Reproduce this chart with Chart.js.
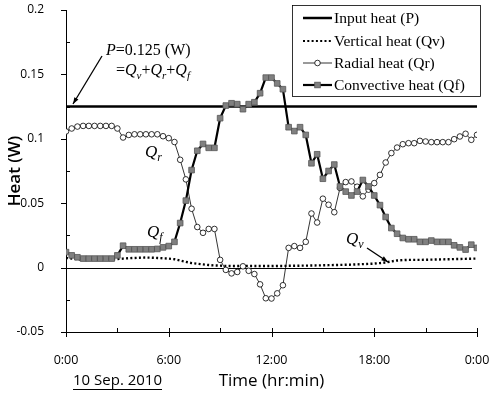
<!DOCTYPE html>
<html>
<head>
<meta charset="utf-8">
<script src="https://cdn.jsdelivr.net/npm/chart.js@4.4.0/dist/chart.umd.min.js"></script>
<style>
  html, body { margin: 0; padding: 0; background: #fff; }
  #wrap { position: relative; width: 489px; height: 394px; }
</style>
</head>
<body>
<div id="wrap"><canvas id="heatChart" width="489" height="394"></canvas></div>
<script>
// --- data: one sample every 20 min, 0:00 -> 24:00 ---
const sampleMinutes = Array.from({ length: 73 }, (_, i) => i * 20);

const inputHeat = 0.125;

const vertHeat = [
  0.0075, 0.007, 0.0065, 0.006, 0.006, 0.006, 0.006, 0.0062, 0.0064, 0.0066,
  0.007, 0.0073, 0.0075, 0.0077, 0.0078, 0.0077, 0.0075, 0.0072, 0.007, 0.0065,
  0.0055, 0.0045, 0.0035, 0.003, 0.0025, 0.002, 0.0017, 0.0015, 0.0013, 0.0012,
  0.0012, 0.0012, 0.0012, 0.0012, 0.0012, 0.0012, 0.0012, 0.0013, 0.0013, 0.0014,
  0.0014, 0.0015, 0.0015, 0.0016, 0.0017, 0.0018, 0.0019, 0.002, 0.0021, 0.0022,
  0.0023, 0.0025, 0.0027, 0.0029, 0.0031, 0.0035, 0.004, 0.0048, 0.0055, 0.0058,
  0.006, 0.006, 0.006, 0.0061, 0.0062, 0.0063, 0.0064, 0.0065, 0.0066, 0.0067,
  0.0068, 0.0069, 0.007
];

const radialHeat = [
  0.1057, 0.108, 0.1095, 0.110, 0.110, 0.110, 0.110, 0.110, 0.110, 0.108,
  0.101, 0.103, 0.1035, 0.1035, 0.1035, 0.1035, 0.1035, 0.102, 0.1005, 0.0975,
  0.0837, 0.0685, 0.0457, 0.0315, 0.027, 0.030, 0.030, 0.006, -0.0018, -0.0045,
  -0.0034, 0.001, -0.0025, -0.005, -0.013, -0.0238, -0.024, -0.020, -0.0137, 0.0153,
  0.0167, 0.0153, 0.020, 0.042, 0.035, 0.0535, 0.0488, 0.043, 0.0618, 0.0664,
  0.0669, 0.0628, 0.0553, 0.0605, 0.0656, 0.072, 0.0816, 0.0889, 0.0932, 0.0958,
  0.0966, 0.0966, 0.0984, 0.0979, 0.0974, 0.0974, 0.0974, 0.0974, 0.0997, 0.1018,
  0.1039, 0.0992, 0.1031
];

const convHeat = [
  0.012, 0.0095, 0.008, 0.007, 0.007, 0.007, 0.007, 0.007, 0.007, 0.0095,
  0.017, 0.0142, 0.0142, 0.0142, 0.0142, 0.0142, 0.0145, 0.0157, 0.0167, 0.020,
  0.0346, 0.052, 0.0757, 0.0907, 0.096, 0.093, 0.093, 0.116, 0.1258, 0.1276,
  0.1269, 0.123, 0.1269, 0.1284, 0.1354, 0.1475, 0.1475, 0.143, 0.1385, 0.109,
  0.106, 0.109, 0.103, 0.081, 0.088, 0.069, 0.075, 0.080, 0.063, 0.059,
  0.056, 0.059, 0.068, 0.063, 0.056, 0.0485, 0.0393, 0.0307, 0.0263, 0.023,
  0.022, 0.022, 0.020, 0.020, 0.021, 0.020, 0.020, 0.020, 0.0173, 0.0157,
  0.014, 0.0178, 0.0153
];

const xTickLabels = ['0:00', '6:00', '12:00', '18:00', '0:00'];
const yTickLabels = ['-0.05', '0', '0.05', '0.1', '0.15', '0.2'];
const legendLabels = ['Input heat (P)', 'Vertical heat (Qv)', 'Radial heat (Qr)', 'Convective heat (Qf)'];

// helpers
const toPoints = (vals) => vals.map((v, i) => ({ x: sampleMinutes[i] / 60, y: v }));
const SANS = '"Open Sans", "Noto Sans", sans-serif';
const SERIF = '"Liberation Serif", "DejaVu Serif", serif';

const arrow = (ctx, x1, y1, x2, y2) => {
  const a = Math.atan2(y2 - y1, x2 - x1), h = 7;
  ctx.beginPath();
  ctx.moveTo(x1, y1); ctx.lineTo(x2, y2);
  ctx.lineWidth = 1.3; ctx.strokeStyle = '#000'; ctx.stroke();
  ctx.beginPath();
  ctx.moveTo(x2, y2);
  ctx.lineTo(x2 - h * Math.cos(a - 0.35), y2 - h * Math.sin(a - 0.35));
  ctx.lineTo(x2 - h * Math.cos(a + 0.35), y2 - h * Math.sin(a + 0.35));
  ctx.closePath(); ctx.fillStyle = '#000'; ctx.fill();
};

// Q with italic subscript, returns end x
const drawQ = (ctx, x, y, sub, size) => {
  ctx.font = `italic ${size}px ${SERIF}`;
  ctx.textBaseline = 'alphabetic';
  ctx.fillText('Q', x, y);
  let w = ctx.measureText('Q').width;
  ctx.font = `italic ${Math.round(size * 0.68)}px ${SERIF}`;
  ctx.fillText(sub, x + w, y + size * 0.25);
  return x + w + ctx.measureText(sub).width;
};

const decor = {
  id: 'decor',
  beforeDatasetsDraw(chart) {
    const { ctx, chartArea: ca, scales: { y } } = chart;
    const y0 = Math.round(y.getPixelForValue(0)) + 0.5;
    ctx.save();
    ctx.beginPath();
    ctx.moveTo(ca.left, y0); ctx.lineTo(ca.right - 5, y0);
    ctx.lineWidth = 1; ctx.strokeStyle = '#000'; ctx.stroke();
    ctx.restore();
  },
  afterDraw(chart) {
    const { ctx, chartArea: ca, scales: { x, y } } = chart;
    ctx.save();
    ctx.strokeStyle = '#000'; ctx.fillStyle = '#000'; ctx.lineWidth = 1;

    // tick marks
    ctx.beginPath();
    for (let v = -0.05; v <= 0.2001; v += 0.025) {
      const py = Math.round(y.getPixelForValue(v)) + 0.5;
      const major = Math.abs(Math.round(v / 0.05) * 0.05 - v) < 1e-6;
      if (major) { ctx.moveTo(ca.left - 5, py); ctx.lineTo(ca.left, py); }
      else { ctx.moveTo(ca.left, py); ctx.lineTo(ca.left + 4, py); }
    }
    for (let h = 0; h <= 24; h += 3) {
      const px = Math.round(x.getPixelForValue(h)) + 0.5;
      if (h % 6 === 0) { ctx.moveTo(px, ca.bottom - 4); ctx.lineTo(px, ca.bottom + 5); }
      else { ctx.moveTo(px, ca.bottom - 4); ctx.lineTo(px, ca.bottom); }
    }
    ctx.stroke();

    // axis titles
    ctx.textAlign = 'center'; ctx.textBaseline = 'middle';
    ctx.font = `17px ${SANS}`;
    ctx.fillText('Time (hr:min)', (ca.left + ca.right) / 2, 381);
    ctx.save();
    ctx.translate(15, (ca.top + ca.bottom) / 2);
    ctx.rotate(-Math.PI / 2);
    ctx.font = `600 17px ${SANS}`;
    ctx.fillText('Heat (W)', 0, 0);
    ctx.restore();

    ctx.textAlign = 'left';
    ctx.font = `15px ${SANS}`;
    ctx.fillText('10 Sep. 2010', 73, 381);
    const dw = ctx.measureText('10 Sep. 2010').width;
    ctx.beginPath(); ctx.moveTo(73, 389.5); ctx.lineTo(73 + dw, 389.5); ctx.stroke();

    // legend box
    ctx.lineWidth = 0.8;
    ctx.strokeRect(292.5, 5.5, 188, 91);
    const rows = [18, 41, 63, 85];
    const sx1 = 303, sx2 = 332;
    ctx.font = `15.5px ${SERIF}`;
    ctx.textBaseline = 'middle';
    rows.forEach((ry, i) => {
      ctx.save();
      ctx.beginPath(); ctx.moveTo(sx1, ry); ctx.lineTo(sx2, ry);
      if (i === 0) { ctx.lineWidth = 2.5; }
      if (i === 1) { ctx.lineWidth = 2.2; ctx.setLineDash([2, 2.3]); }
      if (i === 2) { ctx.lineWidth = 0.8; }
      if (i === 3) { ctx.lineWidth = 2.2; }
      ctx.stroke();
      ctx.setLineDash([]);
      const cx = (sx1 + sx2) / 2;
      if (i === 2) {
        ctx.beginPath(); ctx.arc(cx, ry, 2.8, 0, Math.PI * 2);
        ctx.fillStyle = '#fff'; ctx.fill(); ctx.lineWidth = 0.8; ctx.stroke();
      }
      if (i === 3) {
        ctx.fillStyle = '#808080'; ctx.fillRect(cx - 2.8, ry - 2.8, 5.6, 5.6);
        ctx.lineWidth = 0.8; ctx.strokeStyle = '#555'; ctx.strokeRect(cx - 2.8, ry - 2.8, 5.6, 5.6);
      }
      ctx.restore();
      ctx.fillText(legendLabels[i], 334, ry + 1);
    });

    // annotation: P = 0.125 (W) = Qv + Qr + Qf
    ctx.textBaseline = 'alphabetic';
    ctx.font = `italic 16px ${SERIF}`;
    ctx.fillText('P', 106, 55);
    let px = 106 + ctx.measureText('P').width;
    ctx.font = `16px ${SERIF}`;
    ctx.fillText('=0.125 (W)', px, 55);

    ctx.font = `16px ${SERIF}`;
    let qx = 116;
    ctx.fillText('=', qx, 75); qx += ctx.measureText('=').width;
    qx = drawQ(ctx, qx, 75, 'v', 16);
    ctx.font = `16px ${SERIF}`;
    ctx.fillText('+', qx, 75); qx += ctx.measureText('+').width;
    qx = drawQ(ctx, qx, 75, 'r', 16);
    ctx.font = `16px ${SERIF}`;
    ctx.fillText('+', qx, 75); qx += ctx.measureText('+').width;
    drawQ(ctx, qx, 75, 'f', 16);

    arrow(ctx, 102, 56, 73, 104);

    drawQ(ctx, 145, 157, 'r', 17);
    drawQ(ctx, 147, 237, 'f', 17);
    drawQ(ctx, 346, 244, 'v', 17);
    arrow(ctx, 367, 248, 388, 262);

    ctx.restore();
  }
};

new Chart(document.getElementById('heatChart'), {
  type: 'line',
  data: {
    datasets: [
      {
        label: legendLabels[3], data: toPoints(convHeat),
        borderColor: '#000', borderWidth: 2.2, tension: 0,
        pointStyle: 'rect', pointRadius: 4, pointBackgroundColor: '#808080',
        pointBorderColor: '#555', pointBorderWidth: 0.8
      },
      {
        label: legendLabels[2], data: toPoints(radialHeat),
        borderColor: '#000', borderWidth: 0.8, tension: 0,
        pointStyle: 'circle', pointRadius: 2.8, pointBackgroundColor: '#fff',
        pointBorderColor: '#000', pointBorderWidth: 0.8
      },
      {
        label: legendLabels[1], data: toPoints(vertHeat),
        borderColor: '#000', borderWidth: 2.4, borderDash: [2, 2.3], tension: 0,
        pointRadius: 0
      },
      {
        label: legendLabels[0], data: [{ x: 0, y: inputHeat }, { x: 24, y: inputHeat }],
        borderColor: '#000', borderWidth: 2.5, pointRadius: 0
      }
    ]
  },
  options: {
    responsive: false,
    animation: false,
    devicePixelRatio: 1,
    layout: { padding: { top: 10, right: 12, left: 0, bottom: 0 } },
    plugins: { legend: { display: false }, tooltip: { enabled: false } },
    scales: {
      x: {
        type: 'linear', min: 0, max: 24,
        grid: { display: false },
        border: { display: true, color: '#000', width: 1 },
        ticks: {
          stepSize: 6, padding: 13, color: '#000', maxRotation: 0,
          font: { family: SANS, size: 12.5 },
          callback: (v) => xTickLabels[Math.round(v / 6)]
        },
        afterFit: (s) => { s.height = 62; s.paddingLeft = 0; s.paddingRight = 0; }
      },
      y: {
        min: -0.05, max: 0.2,
        grid: { display: false },
        border: { display: true, color: '#000', width: 1 },
        ticks: {
          stepSize: 0.05, padding: 14, color: '#000',
          font: { family: SANS, size: 12 },
          callback: (v, i) => yTickLabels[i]
        },
        afterFit: (s) => { s.width = 66; s.paddingTop = 0; s.paddingBottom = 0; }
      }
    }
  },
  plugins: [decor]
});
</script>
</body>
</html>
